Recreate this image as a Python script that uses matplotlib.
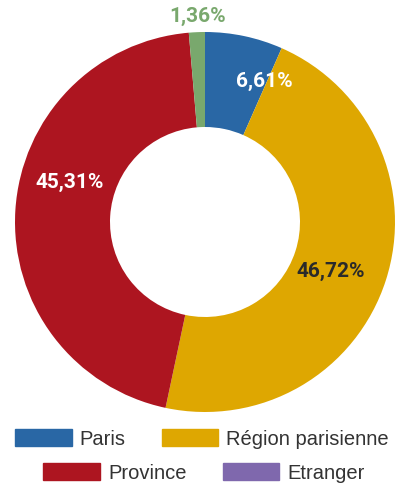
import matplotlib
matplotlib.use("Agg")
import matplotlib.pyplot as plt
from matplotlib.patches import Patch

categories = ["Paris", "Région parisienne", "Province", "Etranger"]
values = [6.61, 46.72, 45.31, 1.36]
labels = ["6,61%", "46,72%", "45,31%", "1,36%"]
slice_colors = ["#2967a5", "#dea701", "#ad1520", "#79a86d"]
legend_colors = ["#2967a5", "#dea701", "#ad1520", "#7f68ad"]

fig = plt.figure(figsize=(3.98, 4.86), dpi=100)
ax = fig.add_axes([15/398, (486-412)/486, 380/398, 380/486])
wedges, _ = ax.pie(values, colors=slice_colors, startangle=90, counterclock=False,
                   radius=1.0, wedgeprops=dict(width=0.5, linewidth=0))
ax.set_xlim(-1, 1)
ax.set_ylim(-1, 1)
ax.set_aspect("equal")
ax.axis("off")

font = dict(family="Roboto", weight="bold", fontsize=15)
pos = [(0.31, 0.74), (0.66, -0.26), (-0.71, 0.21), (-0.04, 1.08)]
txtcol = ["white", "#2a2a2a", "white", "#79a86d"]
for (x, y), t, c in zip(pos, labels, txtcol):
    ax.text(x, y, t, ha="center", va="center", color=c, clip_on=False, **font)

lf = dict(family="Liberation Sans", size=14.5)
h1 = [Patch(color=legend_colors[0]), Patch(color=legend_colors[1])]
h2 = [Patch(color=legend_colors[2]), Patch(color=legend_colors[3])]
common = dict(ncol=2, frameon=False, prop=lf, handlelength=2.8, handleheight=0.85,
              handletextpad=0.4, columnspacing=1.8, borderpad=0, borderaxespad=0,
              labelcolor="#333333")
leg1 = fig.legend(h1, categories[:2], loc="center", bbox_to_anchor=(202/398, 1-439/486), **common)
leg2 = fig.legend(h2, categories[2:], loc="center", bbox_to_anchor=(204/398, 1-473/486), **common)

fig.savefig("out.png", dpi=100)
